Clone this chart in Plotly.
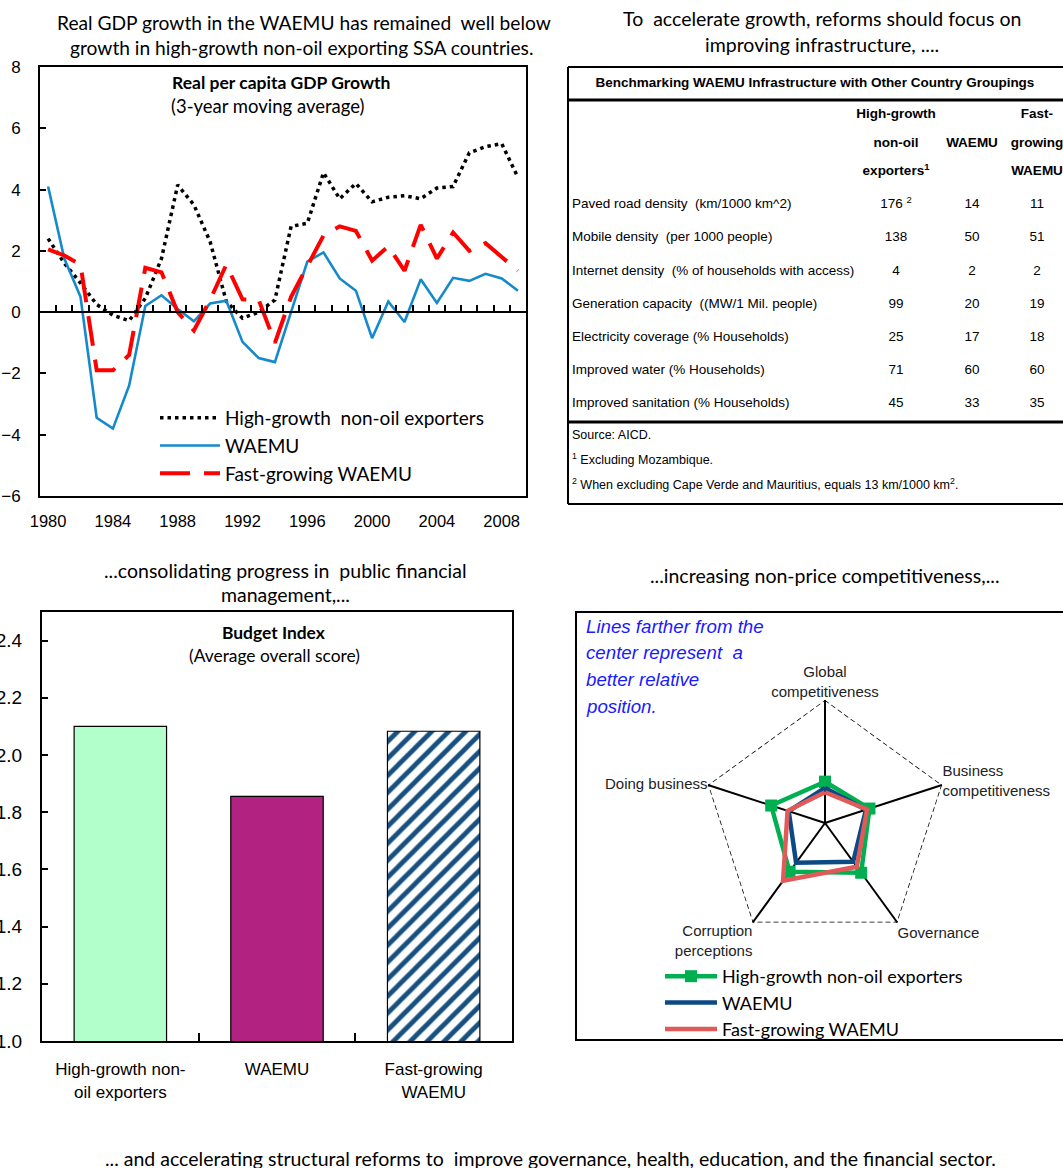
import plotly.graph_objects as go

W, H = 1063, 1168


def fx(px):
    return px / W


def fy(py):
    return 1 - py / H


CAL = "Lato, Carlito, sans-serif"
ARIAL = "Liberation Sans, Arial, sans-serif"

# ---------------- Real per capita GDP growth (3-year moving average) ----------------
years = list(range(1980, 2010))
high_growth = [2.4, 1.6, 0.95, 0.25, -0.1, -0.28, 0.45, 1.75, 4.15, 3.5,
               2.3, 0.35, -0.2, 0.0, 0.4, 2.8, 2.9, 4.55, 3.7, 4.2,
               3.6, 3.75, 3.8, 3.7, 4.05, 4.1, 5.2, 5.4, 5.5, 4.4]
waemu = [4.1, 1.75, 0.5, -3.45, -3.8, -2.4, 0.2, 0.55, 0.1, -0.3,
         0.28, 0.37, -0.97, -1.5, -1.63, 0.05, 1.65, 1.95, 1.1, 0.7,
         -0.85, 0.35, -0.32, 1.07, 0.3, 1.12, 1.02, 1.25, 1.1, 0.7]
fast_growing = [2.05, 1.85, 1.55, -1.9, -1.9, -1.4, 1.45, 1.3, 0.0, -0.6,
                0.4, 1.55, 0.42, 0.4, -1.0, 0.5, 1.5, 2.5, 2.8, 2.65,
                1.68, 2.15, 1.35, 2.85, 1.75, 2.6, 2.0, 2.25, 1.8, 1.35]
year_ticks = list(range(1980, 2009, 4))
gdp_yticks = list(range(-6, 9, 2))

# ---------------- Budget index ----------------
bar_groups = ["High-growth non-<br>oil exporters", "WAEMU", "Fast-growing<br>WAEMU"]
budget_index = [2.10, 1.855, 2.083]
budget_yticks = [1.0, 1.2, 1.4, 1.6, 1.8, 2.0, 2.2, 2.4]

# ---------------- Infrastructure benchmarking table ----------------
infra_rows = [
    "Paved road density  (km/1000 km^2)",
    "Mobile density  (per 1000 people)",
    "Internet density  (% of households with access)",
    "Generation capacity  ((MW/1 Mil. people)",
    "Electricity coverage (% Households)",
    "Improved water (% Households)",
    "Improved sanitation (% Households)",
]
infra_high_growth = [176, 138, 4, 99, 25, 71, 45]
infra_high_growth_notes = ["2", "", "", "", "", "", ""]
infra_waemu = [14, 50, 2, 20, 17, 60, 33]
infra_fast_growing = [11, 51, 2, 19, 18, 60, 35]
infra_headers = [
    ["High-growth", "non-oil", "exporters<sup>1</sup>"],
    ["", "WAEMU", ""],
    ["Fast-", "growing", "WAEMU"],
]
infra_title = "Benchmarking WAEMU Infrastructure with Other Country Groupings"
infra_notes = [
    "Source: AICD.",
    "<sup>1</sup> Excluding Mozambique.",
    "<sup>2</sup> When excluding Cape Verde and Mauritius, equals 13 km/1000 km<sup>2</sup>.",
]

# ---------------- Competitiveness radar ----------------
radar_axes = ["Global<br>competitiveness", "Business<br>competitiveness", "Governance",
              "Corruption<br>perceptions", "Doing business"]
radar_high_growth = [0.335, 0.38, 0.50, 0.49, 0.46]
radar_waemu = [0.285, 0.35, 0.39, 0.40, 0.31]
radar_fast_growing = [0.25, 0.36, 0.44, 0.58, 0.32]
radar_outer = [1.0] * len(radar_axes)
radar_note = ["Lines farther from the", "center represent  a", "better relative", "position."]

series_names = ["High-growth  non-oil exporters", "WAEMU", "Fast-growing WAEMU"]

fig = go.Figure()

# ---- line chart ----
fig.add_trace(go.Scatter(x=years, y=high_growth, name=series_names[0], mode="lines",
                         line=dict(color="black", width=3.5, dash="3.5px,4px"),
                         legend="legend", hoverinfo="skip"))
fig.add_trace(go.Scatter(x=years, y=waemu, name=series_names[1], mode="lines",
                         line=dict(color="#1489CB", width=2.6),
                         legend="legend", hoverinfo="skip"))
fig.add_trace(go.Scatter(x=years, y=fast_growing, name=series_names[2], mode="lines",
                         line=dict(color="#FF0000", width=4, dash="30px,14px"),
                         legend="legend", hoverinfo="skip"))
# carrier for the axis drawn along y = 0
fig.add_trace(go.Scatter(x=[years[0]], y=[None], xaxis="x4", yaxis="y",
                         showlegend=False, hoverinfo="skip"))

# ---- bar chart: solid bars, then the hatched one ----
fig.add_trace(go.Bar(
    x=bar_groups[:2], y=budget_index[:2], xaxis="x2", yaxis="y2", width=0.59,
    showlegend=False, hoverinfo="skip",
    marker=dict(color=["#B3FFCC", "#B22381"], line=dict(color="black", width=1.2)),
))
fig.add_trace(go.Bar(
    x=bar_groups[2:], y=budget_index[2:], xaxis="x2", yaxis="y2", width=0.59,
    showlegend=False, hoverinfo="skip",
    marker=dict(color="white", line=dict(color="black", width=1.2),
                pattern=dict(shape="/", fgcolor="#17507F", bgcolor="white",
                             size=12, solidity=0.4, fillmode="replace")),
))

# ---- table (text drawn on its own hidden axes, 1 unit = 1 px) ----
TFONT = dict(family=ARIAL, size=13.5, color="black")
row_y0, row_step = 137, 33.1
col_x = [329, 405, 470]
row_ys = [row_y0 + i * row_step for i in range(len(infra_rows))]

fig.add_trace(go.Scatter(x=[5] * len(infra_rows), y=row_ys, text=infra_rows, mode="text",
                         textposition="middle right", xaxis="x3", yaxis="y3",
                         textfont=TFONT, showlegend=False, hoverinfo="skip"))
hg_labels = [f"{v} <sup>{n}</sup>" if n else str(v)
             for v, n in zip(infra_high_growth, infra_high_growth_notes)]
for cx, vals in zip(col_x, [hg_labels, [str(v) for v in infra_waemu],
                            [str(v) for v in infra_fast_growing]]):
    fig.add_trace(go.Scatter(x=[cx] * len(vals), y=row_ys, text=vals, mode="text",
                             textposition="middle center", xaxis="x3", yaxis="y3",
                             textfont=TFONT, showlegend=False, hoverinfo="skip"))
head_ys = [47, 76, 104]
for cx, lines in zip(col_x, infra_headers):
    used = [(hy, t) for hy, t in zip(head_ys, lines) if t]
    fig.add_trace(go.Scatter(x=[cx] * len(used), y=[hy for hy, _ in used],
                             text=[f"<b>{t}</b>" for _, t in used],
                             mode="text", textposition="middle center", xaxis="x3", yaxis="y3",
                             textfont=TFONT, showlegend=False, hoverinfo="skip"))
fig.add_trace(go.Scatter(x=[248], y=[16], text=[f"<b>{infra_title}</b>"], mode="text",
                         textposition="middle center", xaxis="x3", yaxis="y3",
                         textfont=TFONT, showlegend=False, hoverinfo="skip"))
fig.add_trace(go.Scatter(x=[5] * len(infra_notes), y=[368, 393, 418], text=infra_notes,
                         mode="text", textposition="middle right", xaxis="x3", yaxis="y3",
                         textfont=dict(family=ARIAL, size=12.5, color="black"),
                         showlegend=False, hoverinfo="skip"))

# ---- radar ----
fig.add_trace(go.Scatterpolar(
    r=radar_outer + radar_outer[:1], theta=radar_axes + radar_axes[:1], mode="lines",
    line=dict(color="black", width=1.5, dash="5px,3px"), showlegend=False, hoverinfo="skip"))
radar_styles = [
    dict(color="#00B050", marker=dict(symbol="square", size=12, color="#00B050")),
    dict(color="#0B4A85", marker=None),
    dict(color="#E05A5A", marker=None),
]
for name, vals, st in zip(["High-growth non-oil exporters", "WAEMU", "Fast-growing WAEMU"],
                          [radar_high_growth, radar_waemu, radar_fast_growing], radar_styles):
    kw = dict(mode="lines+markers", marker=st["marker"]) if st["marker"] else dict(mode="lines")
    fig.add_trace(go.Scatterpolar(
        r=vals + vals[:1], theta=radar_axes + radar_axes[:1], name=name,
        line=dict(color=st["color"], width=4.5), legend="legend2",
        hoverinfo="skip", **kw))

axis_line = dict(showline=True, linecolor="black", linewidth=2, mirror=True,
                 showgrid=False, zeroline=False)

zero_pos = fy(496) + (0 - (-6)) / (8 - (-6)) * (fy(67) - fy(496))

fig.update_layout(
    width=W, height=H, autosize=False,
    margin=dict(l=0, r=0, t=0, b=0),
    paper_bgcolor="white", plot_bgcolor="white",
    template="none", barmode="overlay",
    font=dict(family=ARIAL, color="black"),
    xaxis=dict(domain=[fx(40), fx(526)], anchor="y", range=[1979.5, 2009.5],
               tickvals=year_ticks, ticks="", tickfont=dict(family=ARIAL, size=16.5),
               ticklabelstandoff=9, **axis_line),
    yaxis=dict(domain=[fy(496), fy(67)], anchor="x", range=[-6, 8], tickvals=gdp_yticks,
               ticks="inside", ticklen=6, tickwidth=1.5, tickcolor="black",
               tickfont=dict(family=ARIAL, size=17), ticklabelstandoff=14, **axis_line),
    xaxis4=dict(overlaying="x", side="top", anchor="free", position=zero_pos,
                range=[1979.5, 2009.5], tickvals=[y + 0.5 for y in years[:-1]],
                ticks="outside", ticklen=6, tickwidth=1.5, tickcolor="black",
                showticklabels=False, showline=True, linecolor="black", linewidth=2,
                showgrid=False, zeroline=False),
    xaxis2=dict(domain=[fx(42), fx(512)], anchor="y2", type="category",
                categoryorder="array", categoryarray=bar_groups, tickangle=0,
                ticks="inside", tickson="boundaries", ticklen=8, tickwidth=1.5,
                tickcolor="black", tickfont=dict(family=ARIAL, size=17),
                ticklabelstandoff=12, **axis_line),
    yaxis2=dict(domain=[fy(1041), fy(612)], anchor="x2", range=[1.0, 2.5],
                tickvals=budget_yticks, tickformat=".1f", ticks="inside", ticklen=6,
                tickwidth=1.5, tickcolor="black", tickfont=dict(family=ARIAL, size=19),
                ticklabelstandoff=14, **axis_line),
    xaxis3=dict(domain=[fx(560), 1.0], anchor="y3", range=[-7, 496], visible=False),
    yaxis3=dict(domain=[fy(512), fy(60)], anchor="x3", range=[444, -8], visible=False),
    polar=dict(
        domain=dict(x=[fx(702), fx(948)], y=[fy(946), fy(700)]),
        gridshape="linear", bgcolor="rgba(0,0,0,0)",
        radialaxis=dict(range=[0, 1], showticklabels=False, ticks="", showgrid=False,
                        showline=False),
        angularaxis=dict(rotation=90, direction="clockwise", showline=False,
                         gridcolor="black", gridwidth=1.5, ticks="",
                         tickfont=dict(family=ARIAL, size=15, color="#222222")),
    ),
    legend=dict(x=fx(155), y=fy(399), xanchor="left", yanchor="top",
                bgcolor="rgba(0,0,0,0)", font=dict(family=CAL, size=19),
                itemwidth=60, tracegroupgap=0),
    legend2=dict(x=fx(660), y=fy(958), xanchor="left", yanchor="top",
                 bgcolor="rgba(0,0,0,0)", font=dict(family=CAL, size=18),
                 itemwidth=52, tracegroupgap=0),
    shapes=[
        # table frame and rules
        dict(type="line", xref="x3", yref="y3", x0=1, x1=500, y0=-1, y1=-1,
             line=dict(color="black", width=2)),
        dict(type="line", xref="x3", yref="y3", x0=1, x1=500, y0=32, y1=32,
             line=dict(color="black", width=3)),
        dict(type="line", xref="x3", yref="y3", x0=1, x1=500, y0=354, y1=354,
             line=dict(color="black", width=3)),
        dict(type="line", xref="x3", yref="y3", x0=1, x1=500, y0=436, y1=436,
             line=dict(color="black", width=2)),
        dict(type="line", xref="x3", yref="y3", x0=1, x1=1, y0=-1, y1=436,
             line=dict(color="black", width=2)),
        # radar frame
        dict(type="rect", xref="paper", yref="paper", x0=fx(576), x1=fx(1075),
             y0=fy(1040), y1=fy(612), line=dict(color="black", width=2)),
    ],
)

CAP = 19.5
ann = [
    ("Real GDP growth in the WAEMU has remained  well below", 304, 22, 19.2),
    ("growth in high-growth non-oil exporting SSA countries.", 301, 48, 19.2),
    ("To  accelerate growth, reforms should focus on", 822, 18, CAP),
    ("improving infrastructure, ....", 822, 44, CAP),
    ("...consolidating progress in  public financial", 285, 570, CAP),
    ("management,...", 285, 594, CAP),
    ("...increasing non-price competitiveness,...", 825, 575, CAP),
    ("... and accelerating structural reforms to  improve governance, health, education, and the financial sector.",
     550, 1158, CAP),
    ("<b>Real per capita GDP Growth</b>", 281, 83, 17.5),
    ("(3-year moving average)", 268, 106, 18.5),
    ("<b>Budget Index</b>", 274, 632, 17.4),
    ("(Average overall score)", 274, 655, 17.4),
]
annotations = []
for text, x, y, size in ann:
    annotations.append(dict(text=text, x=fx(x), y=fy(y), xref="paper", yref="paper",
                            xanchor="center", yanchor="middle", showarrow=False,
                            font=dict(family=CAL, size=size, color="black")))
for i, line in enumerate(radar_note):
    annotations.append(dict(
        text=f"<i>{line}</i>", x=fx(584), y=fy(626 + 26.7 * i), xref="paper", yref="paper",
        xanchor="left", yanchor="middle", align="left", showarrow=False,
        font=dict(family=ARIAL, size=18.7, color="#1A1AFF")))
fig.update_layout(annotations=annotations)

fig.write_html("out.html")
